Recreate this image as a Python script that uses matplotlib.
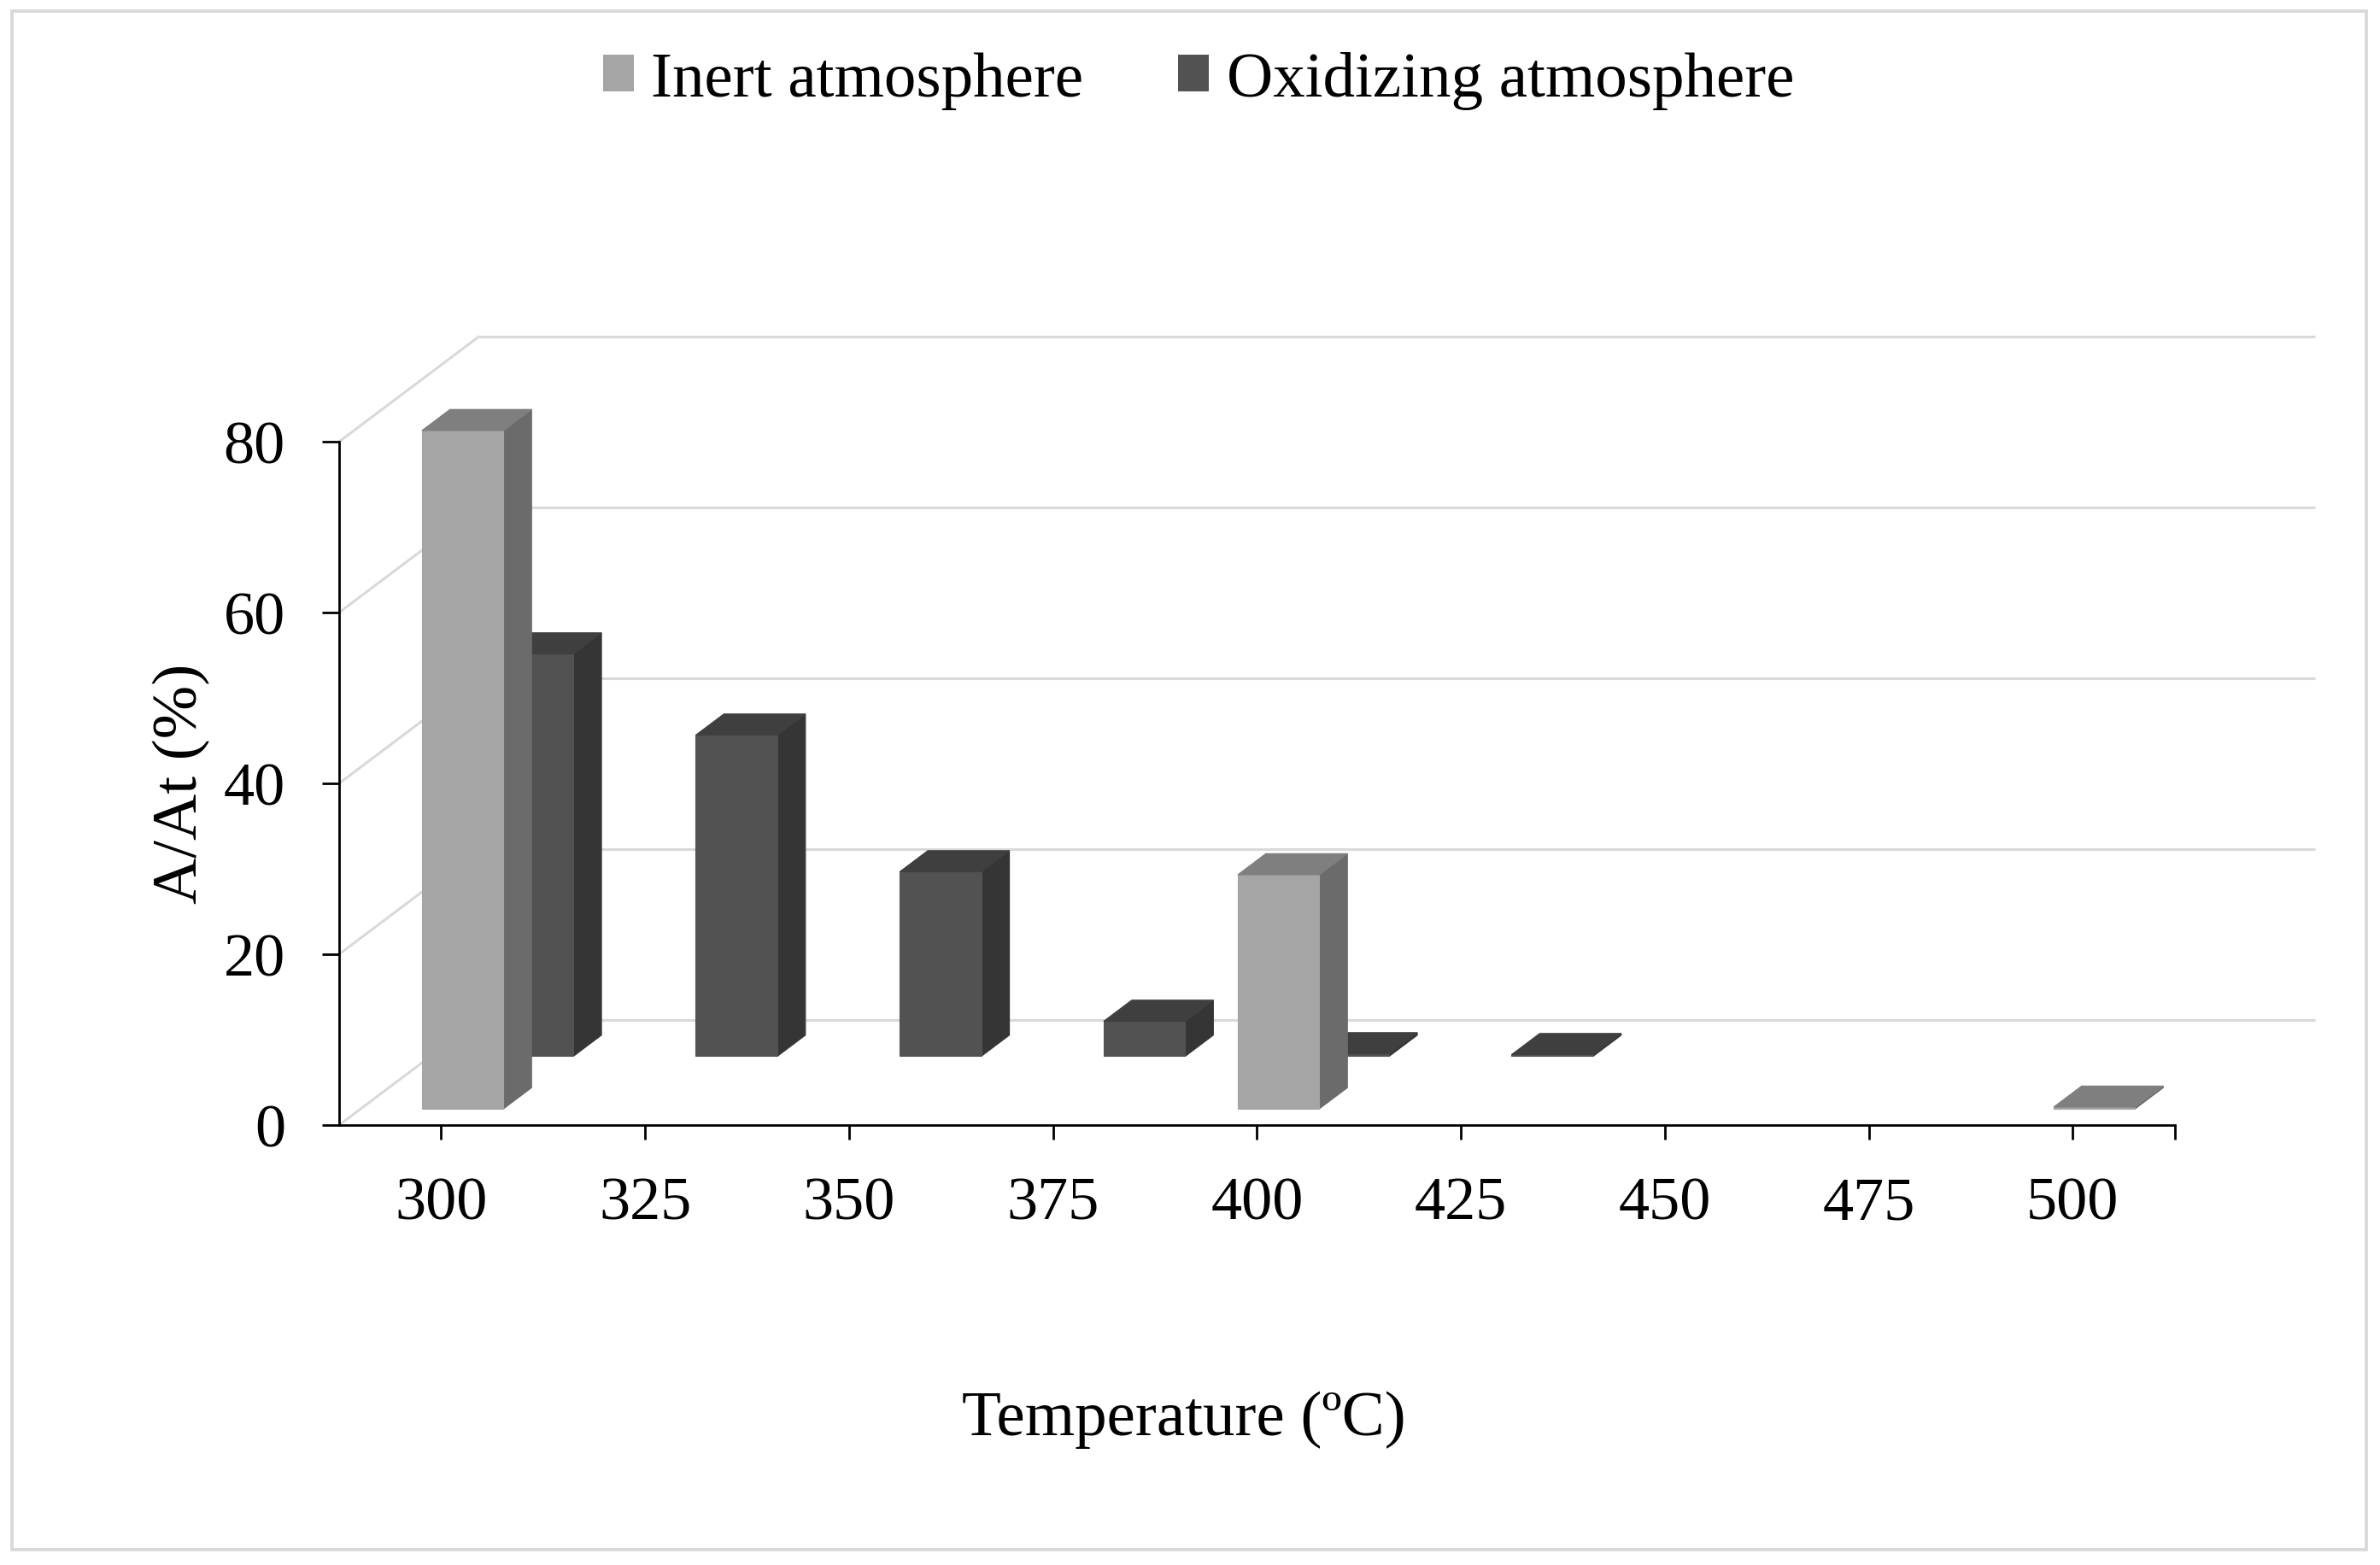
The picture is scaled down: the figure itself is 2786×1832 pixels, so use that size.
import numpy as np
import matplotlib
matplotlib.use("Agg")
import matplotlib.pyplot as plt
from matplotlib.patches import Polygon, Rectangle, Patch

# ---------------- data ----------------
temperatures = [300, 325, 350, 375, 400, 425, 450, 475, 500]
tick_labels = ["300", "325", "350", "375", "400", "425", "450", "475", "500"]
inert = [79.4, np.nan, np.nan, np.nan, 27.4, np.nan, np.nan, np.nan, 0.2]
oxidizing = [47.1, 37.6, 21.6, 4.1, 0.3, 0.2, np.nan, np.nan, np.nan]
series_names = ["Inert atmosphere", "Oxidizing atmosphere"]
y_ticks = [0, 20, 40, 60, 80]
x_label = "Temperature (ºC)"
y_label = "A/At (%)"

# ---------------- style ----------------
plt.rcParams["font.family"] = ["Liberation Serif", "DejaVu Serif"]
W, H = 2786, 1833
DPI = 200
fig = plt.figure(figsize=(W / DPI, H / DPI), dpi=DPI)
fig.patch.set_facecolor("white")

ax = fig.add_axes([397 / W, 1 - 1318 / H, 2148.75 / W, 800 / H])
x_lo, x_hi = 287.5, 512.5
ax.set_xlim(x_lo, x_hi)
ax.set_ylim(0, 80)
ax.set_facecolor("none")

# pseudo-3D geometry (data units)
DX, DY = 17.2, 12.35          # full depth of the floor
BAR_W = 10.0                  # bar width in temperature units
BAR_D = 0.2                   # bar depth as fraction of full depth
series_depth = [0.154, 0.652] # front-face depth of each series
colors = {
    0: dict(front="#a5a5a5", side="#6b6b6b", top="#7f7f7f"),
    1: dict(front="#525252", side="#353535", top="#3f3f3f"),
}
GRID = "#d9d9d9"

# walls / gridlines
for v in y_ticks:
    ax.plot([x_lo, x_lo + DX], [v, v + DY], color=GRID, lw=1.1,
            clip_on=False, zorder=1, solid_capstyle="butt")
    ax.plot([x_lo + DX, x_hi + DX], [v + DY, v + DY], color=GRID, lw=1.1,
            clip_on=False, zorder=1, solid_capstyle="butt")


def draw_bar(T, v, d, c, z):
    x0 = T - BAR_W / 2 + d * DX
    x1 = x0 + BAR_W
    y0 = d * DY
    y1 = y0 + v
    ddx, ddy = BAR_D * DX, BAR_D * DY
    front = Rectangle((x0, y0), BAR_W, v, facecolor=c["front"],
                      edgecolor=c["front"], lw=0.4, zorder=z, clip_on=False)
    side = Polygon([(x1, y0), (x1 + ddx, y0 + ddy), (x1 + ddx, y1 + ddy), (x1, y1)],
                   closed=True, facecolor=c["side"], edgecolor=c["side"],
                   lw=0.4, zorder=z, clip_on=False)
    top = Polygon([(x0, y1), (x1, y1), (x1 + ddx, y1 + ddy), (x0 + ddx, y1 + ddy)],
                  closed=True, facecolor=c["top"], edgecolor=c["top"],
                  lw=0.4, zorder=z, clip_on=False)
    for p in (side, front, top):
        ax.add_patch(p)


# back series first, then front series
for s_idx, values in [(1, oxidizing), (0, inert)]:
    for i, (T, v) in enumerate(zip(temperatures, values)):
        if np.isnan(v):
            continue
        draw_bar(T, v, series_depth[s_idx], colors[s_idx], 3 + (1 - s_idx) * 2)

# axes styling
for sp in ("top", "right"):
    ax.spines[sp].set_visible(False)
for sp in ("left", "bottom"):
    ax.spines[sp].set_linewidth(1.0)
    ax.spines[sp].set_color("black")
    ax.spines[sp].set_zorder(10)

ax.set_yticks(y_ticks)
ax.set_yticklabels([str(t) for t in y_ticks])
ax.set_xticks(temperatures)
ax.set_xticklabels(tick_labels)
ax.set_xticks([x_hi], minor=True)
ax.tick_params(axis="y", direction="out", length=7.2, width=1.0, pad=15.5,
               labelsize=26, colors="black")
ax.tick_params(axis="x", which="major", direction="out", length=6, width=1.0,
               pad=15.5, labelsize=26, colors="black")
ax.tick_params(axis="x", which="minor", direction="out", length=6, width=1.0)

# axis titles
fig.text(212 / W, 1 - 917 / H, y_label, rotation=90, ha="center", va="center",
         fontsize=27)
fig.text(1386 / W, 1 - 1680 / H, x_label, ha="center", va="baseline",
         fontsize=27)

# legend
handles = [Patch(facecolor=colors[0]["front"], edgecolor="none"),
           Patch(facecolor=colors[1]["front"], edgecolor="none")]
fig.legend(handles=handles, labels=series_names, ncol=2, loc="center",
           bbox_to_anchor=(1403 / W, 1 - 95 / H), frameon=False, fontsize=27,
           handlelength=0.48, handleheight=0.5, handletextpad=0.27,
           columnspacing=1.48, borderpad=0)

# outer border
fig.patches.append(Rectangle((14 / W, 1 - 1815 / H), 2756 / W, 1801 / H,
                             transform=fig.transFigure, fill=False,
                             edgecolor="#d9d9d9", lw=1.4, zorder=0))

fig.savefig("out.png", dpi=DPI, facecolor="white")
